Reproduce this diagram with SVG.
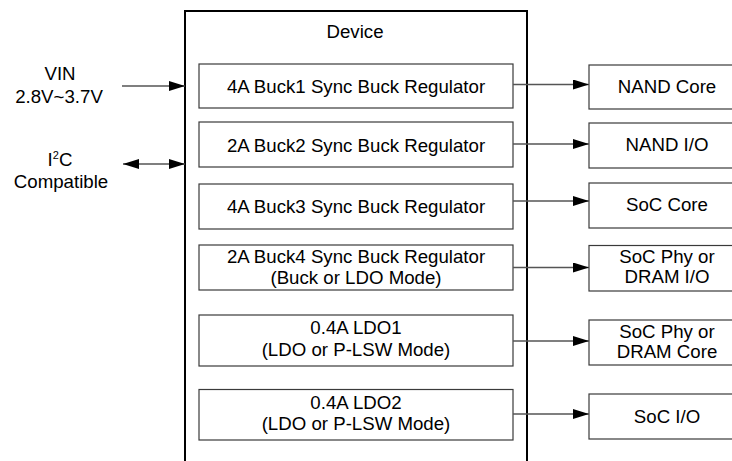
<svg xmlns="http://www.w3.org/2000/svg" width="732" height="461" viewBox="0 0 732 461">
<style>
text{font-family:"Liberation Sans",Arial,sans-serif;font-size:18.67px;fill:#000;text-anchor:middle}
.dev{fill:none;stroke:#000;stroke-width:2}
.box{fill:#fff;stroke:#3a3a3a;stroke-width:1.2}
.wire{stroke:#555;stroke-width:1.4;fill:none}
</style>
<defs>
<marker id="ah" markerWidth="16" markerHeight="10" refX="16" refY="5" orient="auto" markerUnits="userSpaceOnUse"><path d="M0,0 L16,5 L0,10 Z" fill="#000"/></marker>
<marker id="as" markerWidth="16" markerHeight="10" refX="0" refY="5" orient="auto" markerUnits="userSpaceOnUse"><path d="M16,0 L0,5 L16,10 Z" fill="#000"/></marker>
</defs>
<g id="device">
<rect class="dev" x="185" y="11" width="342" height="470"/>
<text x="355" y="38">Device</text>
</g>
<g id="vin"><text x="60" y="80">VIN</text><text x="59" y="103">2.8V~3.7V</text></g>
<g id="i2c"><text x="60" y="166">I<tspan font-size="11" dy="-7">2</tspan><tspan dy="7">C</tspan></text><text x="61" y="188">Compatible</text></g>
<g id="buck1"><rect class="box" x="199" y="64" width="314" height="44"/><text x="356" y="93">4A Buck1 Sync Buck Regulator</text></g>
<g id="buck2"><rect class="box" x="199" y="122" width="314" height="45"/><text x="356" y="151.5">2A Buck2 Sync Buck Regulator</text></g>
<g id="buck3"><rect class="box" x="199" y="184" width="314" height="45"/><text x="356" y="213">4A Buck3 Sync Buck Regulator</text></g>
<g id="buck4"><rect class="box" x="199" y="245" width="314" height="45"/><text x="356" y="262.5">2A Buck4 Sync Buck Regulator</text><text x="356" y="283.5">(Buck or LDO Mode)</text></g>
<g id="ldo1"><rect class="box" x="199" y="315" width="314" height="51"/><text x="356" y="333.5">0.4A LDO1</text><text x="356" y="356">(LDO or P-LSW Mode)</text></g>
<g id="ldo2"><rect class="box" x="199" y="389.5" width="314" height="50.5"/><text x="356" y="408.5">0.4A LDO2</text><text x="356" y="430">(LDO or P-LSW Mode)</text></g>
<g id="nandcore"><rect class="box" x="589" y="65" width="160" height="44"/><text x="667" y="92.7">NAND Core</text></g>
<g id="nandio"><rect class="box" x="589" y="123" width="160" height="45"/><text x="667" y="150.5">NAND I/O</text></g>
<g id="soccore"><rect class="box" x="589" y="183" width="160" height="45"/><text x="667" y="211">SoC Core</text></g>
<g id="socphyio"><rect class="box" x="589" y="245.5" width="160" height="45.5"/><text x="667" y="262.7">SoC Phy or</text><text x="667" y="283.3">DRAM I/O</text></g>
<g id="socphycore"><rect class="box" x="589" y="320" width="160" height="45"/><text x="667" y="337.7">SoC Phy or</text><text x="667" y="358.3">DRAM Core</text></g>
<g id="socio"><rect class="box" x="589" y="394" width="160" height="45"/><text x="667" y="422.7">SoC I/O</text></g>
<g id="connectors">
<line class="wire" x1="122" y1="86" x2="185" y2="86" marker-end="url(#ah)"/>
<line class="wire" x1="123" y1="164" x2="185" y2="164" marker-start="url(#as)" marker-end="url(#ah)"/>
<line class="wire" x1="513" y1="84.5" x2="589" y2="84.5" marker-end="url(#ah)"/>
<line class="wire" x1="513" y1="144" x2="589" y2="144" marker-end="url(#ah)"/>
<line class="wire" x1="513" y1="201" x2="589" y2="201" marker-end="url(#ah)"/>
<line class="wire" x1="513" y1="267.5" x2="589" y2="267.5" marker-end="url(#ah)"/>
<line class="wire" x1="513" y1="341" x2="589" y2="341" marker-end="url(#ah)"/>
<line class="wire" x1="513" y1="414" x2="589" y2="414" marker-end="url(#ah)"/>
</g>
</svg>
